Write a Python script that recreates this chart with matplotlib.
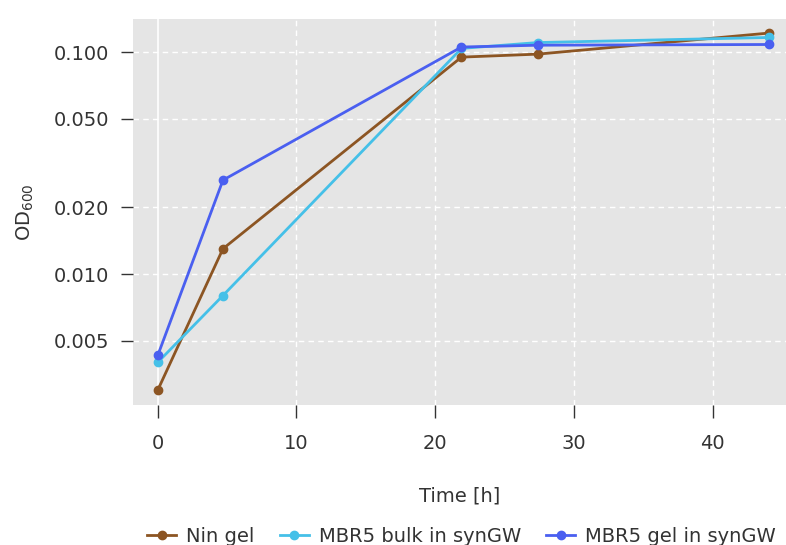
import matplotlib.pyplot as plt
from matplotlib.ticker import FixedLocator, NullLocator, FixedFormatter

# Données
temps = [0, 4.7, 21.9, 27.4, 44.1]
nin_gel = [0.0030, 0.0130, 0.0950, 0.0980, 0.1220]
mbr5_bulk = [0.0040, 0.0080, 0.1040, 0.1105, 0.1165]
mbr5_gel = [0.0043, 0.0265, 0.1055, 0.1075, 0.1083]

series = ["Nin gel", "MBR5 bulk in synGW", "MBR5 gel in synGW"]
couleurs = ["#8c5523", "#45c0e8", "#4a5ff0"]
yticks = [0.005, 0.010, 0.020, 0.050, 0.100]
ytick_labels = ["0.005", "0.010", "0.020", "0.050", "0.100"]
xticks = [0, 10, 20, 30, 40]

plt.rcParams['font.family'] = ['DejaVu Sans']
texte = "#333333"
taille = 14

fig = plt.figure(figsize=(7.86, 5.45), dpi=100)
ax = fig.add_axes([0.169, 0.257, 0.831, 0.708])
ax.set_facecolor("#e5e5e5")

# Grille
for y in yticks:
    ax.axhline(y, color="white", lw=1, ls=(0, (4, 3)), zorder=1)
for x in xticks[1:]:
    ax.axvline(x, color="white", lw=1, ls=(0, (4, 3)), zorder=1)
ax.axvline(0, color="white", lw=1.2, zorder=1)

for nom, valeurs, c in zip(series, [nin_gel, mbr5_bulk, mbr5_gel], couleurs):
    ax.plot(temps, valeurs, marker="o", ms=6, lw=2, color=c, label=nom, zorder=3)

ax.set_yscale("log")
ax.set_xlim(-1.8, 45.3)
ax.set_ylim(0.00257, 0.141)
ax.yaxis.set_major_locator(FixedLocator(yticks))
ax.yaxis.set_major_formatter(FixedFormatter(ytick_labels))
ax.yaxis.set_minor_locator(NullLocator())
ax.set_xticks(xticks)

for s in ax.spines.values():
    s.set_visible(False)
ax.tick_params(axis="both", length=9, width=1, color="#333333", labelsize=taille,
               labelcolor=texte)
ax.tick_params(axis="y", pad=8)
ax.tick_params(axis="x", pad=12)

ax.set_xlabel("Time [h]", fontsize=taille, color=texte, labelpad=24)
ax.set_ylabel("OD$_{600}$", fontsize=taille, color=texte, labelpad=13)

fig.legend(loc="center", bbox_to_anchor=(0.587, 0.016), ncol=3, frameon=False,
           fontsize=taille, labelcolor=texte, handlelength=1.5, columnspacing=1.3,
           handletextpad=0.5)

fig.savefig("out.png", dpi=100)
